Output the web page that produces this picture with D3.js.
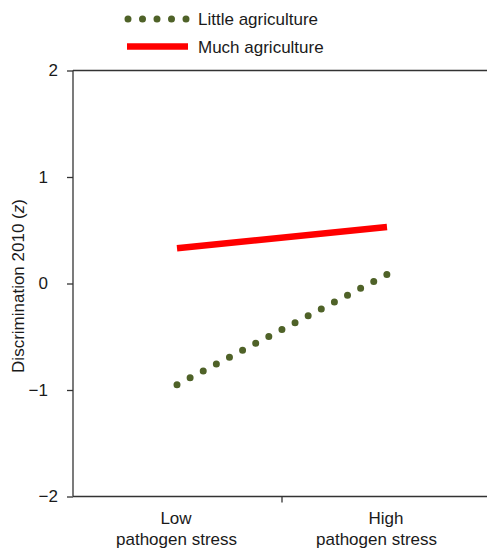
<!DOCTYPE html>
<html><head><meta charset="utf-8">
<script src="https://cdn.jsdelivr.net/npm/d3@7"></script>
<style>body{margin:0;background:#fff}svg{display:block}text{font-family:"Liberation Sans",Arial,sans-serif;fill:#1a1a1a}</style>
</head><body><div id="c"></div>
<script>
const categories = ["Low|pathogen stress", "High|pathogen stress"];
const seriesNames = ["Little agriculture", "Much agriculture"];
const littleAgriculture = [-0.95, 0.085];
const muchAgriculture = [0.33, 0.53];
const yTicks = [-2, -1, 0, 1, 2];

const W = 488, H = 549;
const FS = "17px";
const svg = d3.select("#c").append("svg").attr("width", W).attr("height", H);
const x = d3.scaleLinear().domain([-0.5, 1.5]).range([72, 492]);
const y = d3.scaleLinear().domain([-2, 2]).range([496.5, 70.5]);
const axisColor = "#333";

svg.append("line").attr("x1", 73).attr("x2", 487).attr("y1", y(2)).attr("y2", y(2))
  .attr("stroke", axisColor).attr("stroke-width", 1.3);
svg.append("line").attr("x1", 73).attr("x2", 487).attr("y1", y(-2)).attr("y2", y(-2))
  .attr("stroke", axisColor).attr("stroke-width", 1.3);
svg.append("line").attr("x1", x(0.5)).attr("x2", x(0.5)).attr("y1", y(-2)).attr("y2", y(-2) + 6)
  .attr("stroke", axisColor).attr("stroke-width", 1.3);

// y axis
const yAxis = d3.axisLeft(y).tickValues(yTicks).tickSize(6).tickPadding(8)
  .tickFormat(d => d < 0 ? "\u2212" + Math.abs(d) : String(d));
const gy = svg.append("g").attr("transform", "translate(73,0)").call(yAxis);
gy.select(".domain").attr("stroke", axisColor).attr("stroke-width", 1.3).attr("d", `M0,${y(2)}V${y(-2)}`);
gy.selectAll(".tick line").attr("stroke", axisColor).attr("stroke-width", 1.3);
gy.selectAll(".tick text")
  .style("font-family", '"Liberation Sans",Arial,sans-serif').style("font-size", FS).attr("fill", "#1a1a1a")
  .attr("x", d => (Math.abs(d) === 2 ? -15 : -25));

// y title
const yt = svg.append("text").attr("transform", `translate(24,286) rotate(-90)`)
  .attr("text-anchor", "middle").style("font-size", FS);
yt.append("tspan").text("Discrimination 2010 (");
yt.append("tspan").style("font-style", "italic").text("z");
yt.append("tspan").text(")");

// x category labels
const topOffset = [-1, -1];
const bottomEnd = [60, 50];
categories.forEach((c, i) => {
  const [a, b] = c.split("|");
  svg.append("text").attr("x", x(i) + topOffset[i]).attr("y", 524).attr("text-anchor", "middle")
    .style("font-size", FS).text(a);
  svg.append("text").attr("x", x(i) + bottomEnd[i]).attr("y", 545).attr("text-anchor", "end")
    .style("font-size", FS).text(b);
});

const line = d3.line().x((d, i) => x(i)).y(d => y(d));

svg.append("path").datum(muchAgriculture).attr("d", line).attr("fill", "none")
  .attr("stroke", "#ff0000").attr("stroke-width", 6.5);

const p = svg.append("path").datum(littleAgriculture).attr("d", line).attr("fill", "none")
  .attr("stroke", "#4f6228").attr("stroke-width", 7).attr("stroke-linecap", "round");
const len = p.node().getTotalLength();
p.attr("stroke-dasharray", `0 ${len / 16 - 0.01}`);

// legend
const lg = svg.append("g");
lg.append("line").attr("x1", 128).attr("x2", 186.1).attr("y1", 19).attr("y2", 19)
  .attr("stroke", "#4f6228").attr("stroke-width", 7).attr("stroke-linecap", "round")
  .attr("stroke-dasharray", `0 14.5`);
lg.append("text").attr("x", 198).attr("y", 25).style("font-size", FS).text(seriesNames[0]);
lg.append("line").attr("x1", 127).attr("x2", 188).attr("y1", 46.5).attr("y2", 46.5)
  .attr("stroke", "#ff0000").attr("stroke-width", 6.5);
lg.append("text").attr("x", 198).attr("y", 53).style("font-size", FS).text(seriesNames[1]);
</script></body></html>
